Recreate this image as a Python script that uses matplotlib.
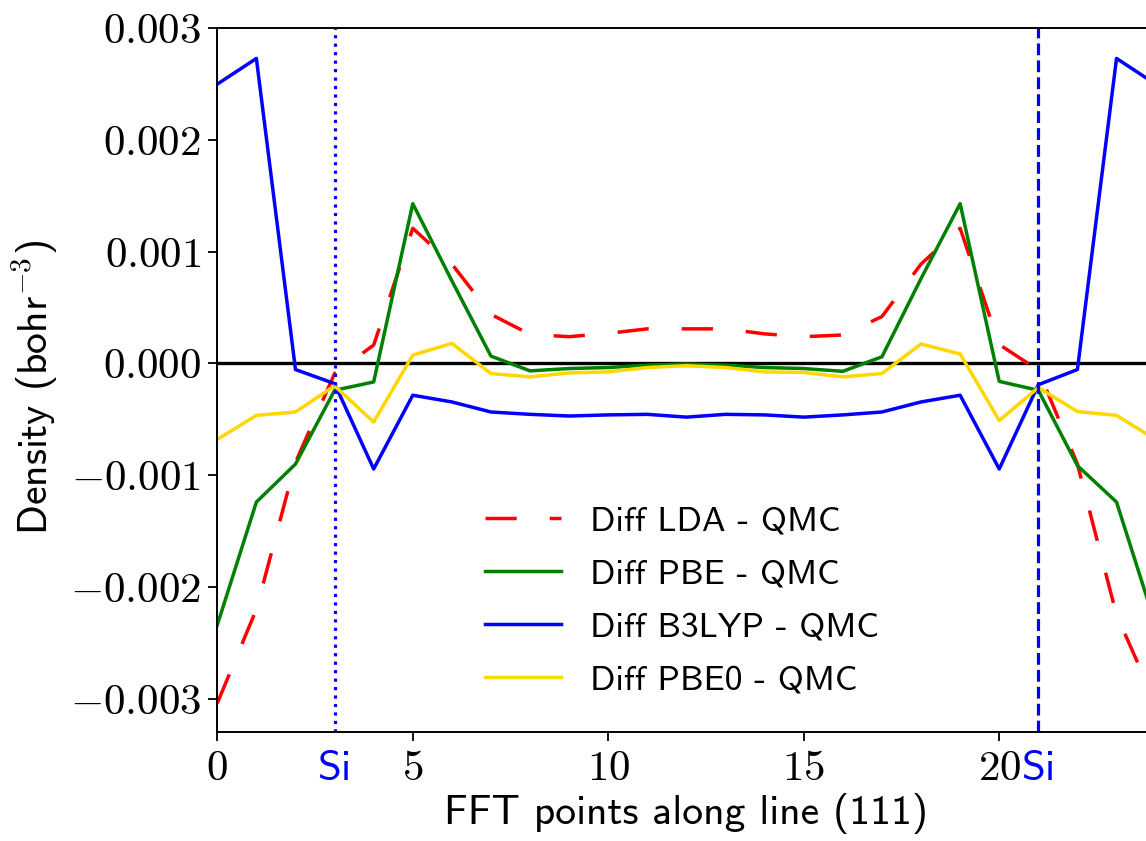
import numpy as np
import matplotlib
matplotlib.use('Agg')
import matplotlib.pyplot as plt
from matplotlib.ticker import FuncFormatter

# density differences along the (111) line, units of 1e-3 bohr^-3
x = np.arange(25)
lda = [-3.04, -2.2, -0.885, -0.09, 0.165, 1.21, 0.89, 0.44, 0.26, 0.24, 0.27, 0.31, 0.31,
       0.31, 0.265, 0.24, 0.255, 0.42, 0.89, 1.21, 0.17, -0.06, -0.9, -2.25, -3.04]
pbe = [-2.34, -1.24, -0.90, -0.24, -0.165, 1.43, 0.74, 0.066, -0.066, -0.045, -0.036, -0.015, -0.005,
       -0.015, -0.036, -0.045, -0.07, 0.06, 0.76, 1.43, -0.16, -0.24, -0.914, -1.24, -2.34]
b3lyp = [2.50, 2.73, -0.054, -0.18, -0.944, -0.284, -0.344, -0.434, -0.455, -0.47, -0.46, -0.455, -0.48,
         -0.455, -0.46, -0.48, -0.46, -0.434, -0.344, -0.284, -0.944, -0.19, -0.054, 2.73, 2.50]
pbe0 = [-0.68, -0.464, -0.434, -0.20, -0.524, 0.075, 0.18, -0.09, -0.12, -0.084, -0.075, -0.036, -0.02,
        -0.036, -0.075, -0.08, -0.12, -0.09, 0.175, 0.085, -0.51, -0.216, -0.43, -0.464, -0.68]
labels = ['Diff LDA - QMC', 'Diff PBE - QMC', 'Diff B3LYP - QMC', 'Diff PBE0 - QMC']
si_pos = [3, 21]
xticks = [0, 5, 10, 15, 20]
yticks = [-0.003, -0.002, -0.001, 0.0, 0.001, 0.002, 0.003]

plt.rcParams['mathtext.fontset'] = 'cm'
plt.rcParams['font.family'] = ['cmss10', 'DejaVu Sans']
plt.rcParams['axes.unicode_minus'] = True

fig = plt.figure(figsize=(11.46, 8.41), dpi=100)
ax = fig.add_axes([0.1896, 0.1293, 0.8188, 0.8371])

lw = 2.5
ax.axhline(0, color='k', lw=2.4)
ax.plot(x, np.array(lda) * 1e-3, color='red', lw=lw, ls=(0, (9, 9.5)), label=labels[0])
ax.plot(x, np.array(pbe) * 1e-3, color='green', lw=lw, label=labels[1])
ax.plot(x, np.array(b3lyp) * 1e-3, color='blue', lw=lw, label=labels[2])
ax.plot(x, np.array(pbe0) * 1e-3, color='gold', lw=lw, label=labels[3])
ax.axvline(si_pos[0], color='blue', lw=2.3, ls=':')
ax.axvline(si_pos[1], color='blue', lw=2.3, ls='--')

ax.set_xlim(0, 24)
ax.set_ylim(-0.0033, 0.003)

# x ticks: numbers in CM serif, Si markers in blue without tick marks
ticks = sorted(xticks + si_pos)
ax.set_xticks(ticks)
ax.set_xticklabels(['Si' if t in si_pos else r'$%d$' % t for t in ticks])
for t, tk in zip(ticks, ax.xaxis.get_major_ticks()):
    if t in si_pos:
        tk.tick1line.set_visible(False)
        tk.label1.set_color('blue')
ax.set_yticks(yticks)
ax.yaxis.set_major_formatter(FuncFormatter(lambda v, p: r'$%.3f$' % v))
ax.tick_params(labelsize=31, length=6.5, width=1.3, direction='out')
ax.tick_params(axis='y', pad=5)
ax.tick_params(axis='x', pad=6)
for s in ax.spines.values():
    s.set_linewidth(1.4)

ax.set_xlabel('FFT points along line (111)', fontsize=30, labelpad=4)
ax.set_ylabel(r'Density (bohr$^{\mathsf{-3}}$)', fontsize=30)
ax.yaxis.set_label_coords(-0.168, 0.489)

ax.legend(loc='center', bbox_to_anchor=(0.495, 0.1865), frameon=False, fontsize=25.5,
          handlelength=2.15, handletextpad=0.8, labelspacing=0.6)

fig.savefig('out.png', dpi=100)
